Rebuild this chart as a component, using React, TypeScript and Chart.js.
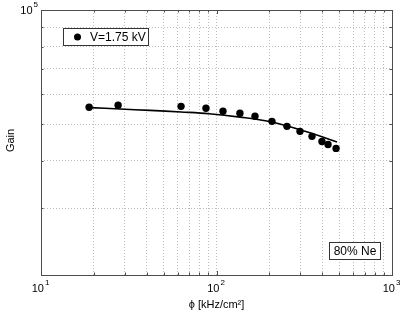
import React, { useEffect, useRef } from "react";
import { Chart, registerables } from "chart.js";

Chart.register(...registerables);

const phi = [18.8, 27.5, 62.8, 87.1, 108.9, 136, 165.7, 207, 252, 299, 350, 399, 432, 480];
const gain = [55400, 56100, 55700, 55050, 54050, 53400, 52450, 50850, 49330, 47860, 46420, 44990, 44190, 43150];

const fitPhi = [19, 28.2, 41.8, 62.8, 90.6, 136, 207, 299, 399, 486];
const fitGain = [55280, 54810, 54350, 53820, 53270, 52180, 50650, 48300, 46340, 44830];

const xGrid = [10, 20, 30, 40, 50, 60, 70, 80, 90, 100, 200, 300, 400, 500, 600, 700, 800, 900, 1000];
const yGrid = [20000, 30000, 40000, 50000, 60000, 70000, 80000, 90000, 100000];
const xTickValues = [10, 100, 1000];
const xTickExps = ["1", "2", "3"];
const yTickValues = [100000];
const yTickExps = ["5"];

const seriesLabel = "V=1.75 kV";
const noteLabel = "80% Ne";
const xTitle = "ϕ [kHz/cm²]";
const yTitle = "Gain";

const FONT = "'Liberation Sans', Arial, Helvetica, sans-serif";

const overlay = {
  id: "overlay",
  afterDraw(chart: any) {
    const { ctx, chartArea: a, scales } = chart;
    const xs = scales.x;
    const ys = scales.y;
    ctx.save();
    ctx.strokeStyle = "#4d4d4d";
    ctx.lineWidth = 1;
    ctx.strokeRect(Math.round(a.left) + 0.5, Math.round(a.top) + 0.5, Math.round(a.right - a.left), Math.round(a.bottom - a.top));
    ctx.beginPath();
    xGrid.forEach((v) => {
      const px = Math.round(xs.getPixelForValue(v)) + 0.5;
      const len = xTickValues.includes(v) ? 4 : 2.5;
      ctx.moveTo(px, a.bottom);
      ctx.lineTo(px, a.bottom - len);
      ctx.moveTo(px, a.top);
      ctx.lineTo(px, a.top + len);
    });
    yGrid.forEach((v) => {
      const py = Math.round(ys.getPixelForValue(v)) + 0.5;
      ctx.moveTo(a.left, py);
      ctx.lineTo(a.left + 2.5, py);
      ctx.moveTo(a.right, py);
      ctx.lineTo(a.right - 2.5, py);
    });
    ctx.stroke();

    ctx.fillStyle = "#000";
    xTickValues.forEach((v, i) => {
      const px = xs.getPixelForValue(v);
      ctx.font = `11px ${FONT}`;
      const w1 = ctx.measureText("10").width;
      ctx.font = `8px ${FONT}`;
      const w2 = ctx.measureText(xTickExps[i]).width;
      const start = px - (w1 + w2) / 2 - 1;
      ctx.textBaseline = "alphabetic";
      ctx.textAlign = "left";
      ctx.font = `11px ${FONT}`;
      ctx.fillText("10", start, a.bottom + 17);
      ctx.font = `8px ${FONT}`;
      ctx.fillText(xTickExps[i], start + w1 + 1, a.bottom + 10);
    });
    yTickValues.forEach((v, i) => {
      const py = ys.getPixelForValue(v);
      ctx.font = `8px ${FONT}`;
      const w2 = ctx.measureText(yTickExps[i]).width;
      ctx.textAlign = "left";
      ctx.font = `11px ${FONT}`;
      const w1 = ctx.measureText("10").width;
      const right = a.left - 3;
      const start = right - w2 - 1 - w1;
      ctx.fillText("10", start, py + 4);
      ctx.font = `8px ${FONT}`;
      ctx.fillText(yTickExps[i], start + w1 + 1, py - 3);
    });
    ctx.font = `11px ${FONT}`;
    ctx.textAlign = "center";
    ctx.textBaseline = "middle";
    ctx.fillText(xTitle, (a.left + a.right) / 2, a.bottom + 30);
    ctx.save();
    ctx.translate(11, (a.top + a.bottom) / 2 - 2);
    ctx.rotate(-Math.PI / 2);
    ctx.fillText(yTitle, 0, 0);
    ctx.restore();

    const lx = a.left + 22, ly = a.top + 18, lw = 85, lh = 17;
    ctx.fillStyle = "#fff";
    ctx.fillRect(lx, ly, lw, lh);
    ctx.strokeStyle = "#333";
    ctx.lineWidth = 1;
    ctx.strokeRect(Math.round(lx) + 0.5, Math.round(ly) + 0.5, lw, lh);
    ctx.fillStyle = "#000";
    ctx.beginPath();
    ctx.arc(lx + 14.5, ly + 9, 3.5, 0, Math.PI * 2);
    ctx.fill();
    ctx.font = `12px ${FONT}`;
    ctx.textAlign = "left";
    ctx.textBaseline = "middle";
    ctx.fillText(seriesLabel, lx + 27, ly + 9.5);

    const nx = 329, ny = 242, nw = 51, nh = 17;
    ctx.fillStyle = "#fff";
    ctx.fillRect(nx, ny, nw, nh);
    ctx.strokeStyle = "#333";
    ctx.strokeRect(nx + 0.5, ny + 0.5, nw, nh);
    ctx.fillStyle = "#000";
    ctx.textAlign = "center";
    ctx.fillText(noteLabel, nx + nw / 2 + 0.5, ny + 9.5);
    ctx.restore();
  },
};

export default function App() {
  const ref = useRef<HTMLCanvasElement>(null);
  useEffect(() => {
    if (!ref.current) return;
    const chart = new Chart(ref.current, {
      type: "scatter",
      data: {
        datasets: [
          {
            label: "fit",
            data: fitPhi.map((x, i) => ({ x, y: fitGain[i] })),
            showLine: true,
            borderColor: "#000",
            borderWidth: 1.6,
            pointRadius: 0,
            tension: 0.35,
          },
          {
            label: seriesLabel,
            data: phi.map((x, i) => ({ x, y: gain[i] })),
            showLine: false,
            backgroundColor: "#000",
            borderColor: "#000",
            pointRadius: 3.7,
            pointBorderWidth: 0,
          },
        ],
      },
      options: {
        responsive: false,
        animation: false,
        devicePixelRatio: 1,
        layout: { padding: { top: 10, right: 17, left: 0, bottom: 0 } },
        plugins: { legend: { display: false }, tooltip: { enabled: false } },
        scales: {
          x: {
            type: "logarithmic",
            min: 10,
            max: 1000,
            ticks: { display: false, autoSkip: false },
            grid: { color: "#bdbdbd", lineWidth: 1, drawTicks: false },
            border: { display: false, dash: [1, 2] },
            afterBuildTicks: (s: any) => { s.ticks = xGrid.map((value) => ({ value })); },
            afterFit: (s: any) => { s.height = 39; },
          },
          y: {
            type: "logarithmic",
            min: 20000,
            max: 100000,
            ticks: { display: false, autoSkip: false },
            grid: { color: "#bdbdbd", lineWidth: 1, drawTicks: false },
            border: { display: false, dash: [1, 2] },
            afterBuildTicks: (s: any) => { s.ticks = yGrid.map((value) => ({ value })); },
            afterFit: (s: any) => { s.width = 41; },
          },
        },
      } as any,
      plugins: [overlay],
    });
    return () => chart.destroy();
  }, []);
  return (
    <div style={{ position: "fixed", left: 0, top: 0, width: 409, height: 314, background: "#fff" }}>
      <canvas ref={ref} width={409} height={314} style={{ display: "block" }} />
    </div>
  );
}
